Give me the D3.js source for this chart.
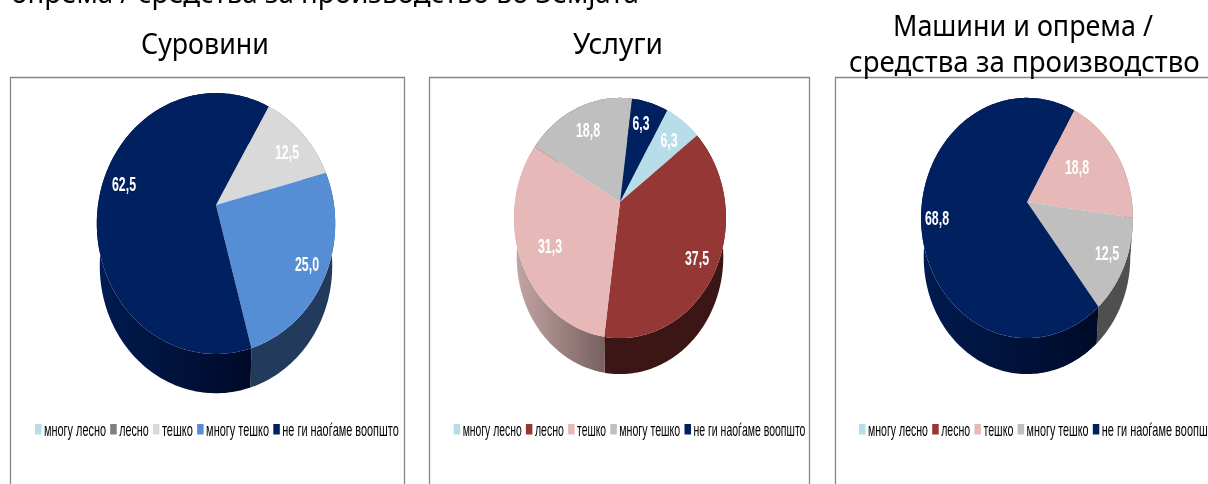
<!DOCTYPE html>
<html><head><meta charset="utf-8">
<script src="https://cdn.jsdelivr.net/npm/d3@7"></script>
<style>html,body{margin:0;padding:0;background:#fff;overflow:hidden}svg{display:block;filter:blur(.45px)}</style>
</head><body><svg id="c" width="1208" height="484"></svg>
<script>
// ---- data ----
const categories = ["многу лесно","лесно","тешко","многу тешко","не ги наоѓаме воопшто"];
const surovini = [0,0,12.5,25,62.5];
const uslugi = [6.25,37.5,31.25,18.75,6.25];
const mashini = [0,0,18.75,12.5,68.75];
const headline = "опрема / средства за производство во Земјата";
const title1 = ["Суровини"];
const title2 = ["Услуги"];
const title3 = ["Машини и опрема /","средства за производство"];
// ---- colours ----
const colors1 = ["#b7dee8","#7f7f7f","#d9d9d9","#558ed5","#002060"];
const colors2 = ["#b7dee8","#953735","#e6b9b8","#bfbfbf","#002060"];
const sides1 = [["#b7dee8","#b7dee8"],["#777","#777"],["#777","#777"],["#223a5c","#223a5c"],["#001b50","#000a28"]];
const sides2 = [["#7fa0a8","#7fa0a8"],["#3c1614","#3c1614"],["#c4a5a5","#786060"],["#555","#555"],["#001b50","#000a28"]];
const sides3 = [["#777","#777"],["#777","#777"],["#8a6e6e","#8a6e6e"],["#4f4f4f","#4f4f4f"],["#001b50","#000a28"]];
// ---- layout ----
const charts = [
 {id:"a",values:surovini,colors:colors1,sides:sides1,title:title1,
  frame:[10.5,404.5],cx:216,cy:205,rx:118,ry:127.8,k:.142,depth:43,
  gradX:[100,250],labels:[null,null,[71,-53],[91,59],[-92,-21]],
  titleBox:[[141,269,54]],legendX:35,legendW:[62,29.5,31,63,116.5]},
 {id:"b",values:uslugi,colors:colors2,sides:sides2,title:title2,
  frame:[429.5,809.5],cx:620,cy:202,rx:105,ry:118,k:.133,depth:39.4,
  gradX:[515,605],labels:[[49,-62],[77,56],[-70,44],[-32,-72],[21,-79]],
  titleBox:[[573,663,54]],legendX:453.7,legendW:[59,29,29,61,112]},
 {id:"c",values:mashini,colors:colors2,sides:sides3,title:title3,
  frame:[835.5,1230],cx:1027,cy:202,rx:105,ry:118,k:.133,depth:39.4,
  gradX:[922,1098],labels:[null,null,[50,-35],[80,51],[-90,16]],
  titleBox:[[893,1153,36],[849,1200,72]],legendX:859,legendW:[60,29,30,62,117]}
];
const svg = d3.select("#c");
const defs = svg.append("defs");
const pie = d3.pie().sort(null).value(d=>d).startAngle(Math.PI/6).endAngle(Math.PI/6+2*Math.PI);
const line = d3.line();
const titleFont = "'Noto Sans','DejaVu Sans',sans-serif";
const smallFont = "'Liberation Sans Narrow','Liberation Sans',sans-serif";

// text squeezed horizontally to a given width, starting at x0
function fitText(str,x0,y,w,font,size,fill,bold){
  const t=svg.append("text").attr("font-family",font).attr("font-size",size).attr("fill",fill).text(str);
  if(bold)t.attr("font-weight","bold");
  const natural=t.node().getComputedTextLength();
  t.attr("transform",`translate(${x0},${y}) scale(${w/natural},1)`);
  return t;
}

fitText(headline,11,2.5,628,titleFont,29,"#000");

charts.forEach(ch=>{
  svg.append("path").attr("d",`M${ch.frame[0]},500V77.5H${ch.frame[1]}V500`)
    .attr("fill","#fff").attr("stroke","#868686").attr("stroke-width",1.3);
  ch.title.forEach((t,i)=>{
    const [x0,x1,y]=ch.titleBox[i];
    fitText(t,x0,y,x1-x0,titleFont,29,"#000");
  });
  // projective map of the unit circle on to the tilted pie
  const proj=(a,f=1,scale=1,dy=0)=>{
    const u=Math.sin(a)*f, v=-Math.cos(a)*f, w=1-ch.k*v;
    return [ch.cx+ch.rx*scale*u/w, ch.cy+dy+ch.ry*scale*v/w];
  };
  const arcs=pie(ch.values);
  const samples=(a)=>{
    const n=Math.max(2,Math.ceil((a.endAngle-a.startAngle)/.02));
    return d3.range(n+1).map(i=>a.startAngle+(a.endAngle-a.startAngle)*i/n);
  };
  const g=svg.append("g");
  arcs.forEach((a,i)=>{
    if(!a.value)return;
    const gid=`g-${ch.id}-${i}`;
    const lg=defs.append("linearGradient").attr("id",gid).attr("gradientUnits","userSpaceOnUse")
      .attr("x1",ch.gradX[0]).attr("x2",ch.gradX[1]).attr("y1",0).attr("y2",0);
    lg.append("stop").attr("offset",0).attr("stop-color",ch.sides[i][0]);
    lg.append("stop").attr("offset",1).attr("stop-color",ch.sides[i][1]);
    const as=samples(a);
    const pts=as.map(t=>proj(t)).concat(as.slice().reverse().map(t=>proj(t,1,.975,ch.depth)));
    g.append("path").attr("d",line(pts)+"Z").attr("fill",`url(#${gid})`);
  });
  arcs.forEach((a,i)=>{
    if(!a.value)return;
    const pts=[[ch.cx,ch.cy]].concat(samples(a).map(t=>proj(t)));
    g.append("path").attr("d",line(pts)+"Z").attr("fill",ch.colors[i]);
  });
  arcs.forEach((a,i)=>{
    if(!a.value)return;
    const [dx,dy]=ch.labels[i];
    const s=a.value.toFixed(1).replace(".",",");
    const w=s.length>3?24:17;
    fitText(s,ch.cx+dx-w/2,ch.cy+dy+7,w,smallFont,20,"#fff",true);
  });
  let x=ch.legendX;
  categories.forEach((c,i)=>{
    svg.append("rect").attr("x",x).attr("y",424).attr("width",6.5).attr("height",10.5).attr("fill",ch.colors[i]);
    fitText(c,x+9,436,ch.legendW[i],smallFont,18,"#000");
    x+=9+ch.legendW[i]+4.2;
  });
});
</script></body></html>
